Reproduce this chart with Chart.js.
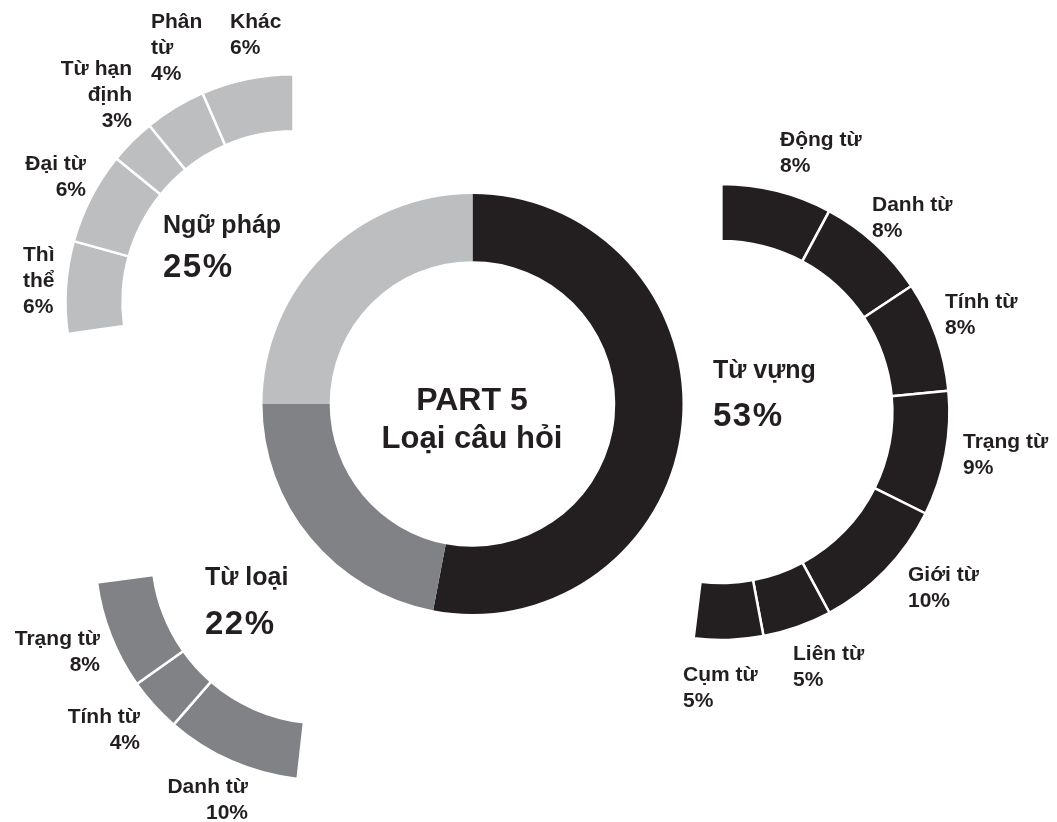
<!DOCTYPE html>
<html>
<head>
<meta charset="utf-8">
<script src="https://cdn.jsdelivr.net/npm/chart.js@4.4.1/dist/chart.umd.min.js"></script>
<style>
html,body{margin:0;padding:0;background:#fff;}
#stage{position:relative;width:1057px;height:822px;overflow:hidden;font-family:"Liberation Sans",Arial,Helvetica,sans-serif;color:#231f20;font-weight:bold;}
canvas.ring{position:absolute;left:0;top:0;}
.lbl{position:absolute;font-size:21px;line-height:26px;white-space:pre;}
.grp{position:absolute;font-size:25px;line-height:25px;white-space:pre;}
.pct{position:absolute;font-size:33px;line-height:33px;letter-spacing:1.5px;white-space:pre;}
.ctr{position:absolute;white-space:pre;transform:translateX(-50%);text-align:center;}
</style>
</head>
<body>
<div id="stage"></div>
<script>
// ---------- DATA ----------
const mainLabels = ['Từ vựng', 'Từ loại', 'Ngữ pháp'];
const mainValues = [53, 22, 25];

const vocabLabels = ['Động từ', 'Danh từ', 'Tính từ', 'Trạng từ', 'Giới từ', 'Liên từ', 'Cụm từ'];
const vocabValues = [8, 8, 8, 9, 10, 5, 5];

const wordLabels = ['Danh từ', 'Tính từ', 'Trạng từ'];
const wordValues = [10, 4, 8];

const grammarLabels = ['Thì\nthể', 'Đại từ', 'Từ hạn\nđịnh', 'Phân\ntừ', 'Khác'];
const grammarValues = [6, 6, 3, 4, 6];

const centerTitle = ['PART 5', 'Loại câu hỏi'];

// ---------- STYLE / LAYOUT ----------
const W = 1057, H = 822;
const COL = { dark: '#231f20', mid: '#808285', light: '#bcbec0' };

const rings = [
  { labels: mainLabels, values: mainValues, color: [COL.dark, COL.mid, COL.light],
    cx: 472, cy: 404, r: 210, cutout: '68%', rotation: 0, circ: 360, border: 0 },
  { labels: vocabLabels, values: vocabValues, color: COL.dark,
    cx: 721, cy: 412, r: 228, cutout: '75%', rotation: 0, circ: 187, border: 2.5 },
  { labels: wordLabels, values: wordValues, color: COL.mid,
    cx: 323, cy: 552, r: 228, cutout: '75%', rotation: 186.4, circ: 76, border: 2.5 },
  { labels: grammarLabels, values: grammarValues, color: COL.light,
    cx: 293, cy: 302, r: 228, cutout: '75%', rotation: 262, circ: 98, border: 2.5 }
];

// label positions: [x, top, align]
const vocabLabelPos = [[780,126.4,'l'],[872,191.4,'l'],[945,287.7,'l'],[963,427.7,'l'],[908,561.4,'l'],[793,639.7,'l'],[683,661.4,'l']];
const wordLabelPos = [[248,773,'r'],[140,703,'r'],[100,624.7,'r']];
const grammarLabelPos = [[23,241.4,'l'],[86,149.7,'r'],[132,54.7,'r'],[151,7.7,'l'],[230,7.7,'l']];
// group name/percent: [x, nameTop, pctTop]
const groupPos = [[713,356.5,398],[205,564,606],[163,212,248.8]];

const stage = document.getElementById('stage');

function addDiv(cls, text, x, top, align, extra) {
  const d = document.createElement('div');
  d.className = cls;
  d.textContent = text;
  d.style.left = x + 'px';
  d.style.top = top + 'px';
  if (align === 'r') { d.style.transform = 'translateX(-100%)'; d.style.textAlign = 'right'; }
  if (extra) Object.assign(d.style, extra);
  stage.appendChild(d);
  return d;
}

rings.forEach(function (g) {
  const cv = document.createElement('canvas');
  cv.className = 'ring';
  cv.width = W; cv.height = H;
  cv.style.width = W + 'px'; cv.style.height = H + 'px';
  stage.appendChild(cv);
  const chart = new Chart(cv, {
    type: 'doughnut',
    data: {
      labels: g.labels,
      datasets: [{
        data: g.values,
        backgroundColor: g.color,
        borderColor: '#ffffff',
        borderWidth: g.border,
        borderAlign: 'center'
      }]
    },
    options: {
      responsive: false,
      animation: false,
      events: [],
      radius: g.r,
      cutout: g.cutout,
      rotation: g.rotation,
      circumference: g.circ,
      layout: { padding: 0 },
      plugins: { legend: { display: false }, tooltip: { enabled: false } }
    }
  });
  const el = chart.getDatasetMeta(0).data[0];
  cv.style.left = (g.cx - el.x) + 'px';
  cv.style.top = (g.cy - el.y) + 'px';
});

// segment labels
function segLabels(labels, values, pos) {
  labels.forEach(function (lab, i) {
    const p = pos[i];
    addDiv('lbl', lab + '\n' + values[i] + '%', p[0], p[1], p[2]);
  });
}
segLabels(vocabLabels, vocabValues, vocabLabelPos);
segLabels(wordLabels, wordValues, wordLabelPos);
segLabels(grammarLabels, grammarValues, grammarLabelPos);

// group labels
mainLabels.forEach(function (lab, i) {
  const p = groupPos[i];
  addDiv('grp', lab, p[0], p[1]);
  addDiv('pct', mainValues[i] + '%', p[0], p[2]);
});

// centre title
addDiv('ctr', centerTitle[0], 472, 383, null, { fontSize: '32px', lineHeight: '32px' });
addDiv('ctr', centerTitle[1], 472, 422, null, { fontSize: '31px', lineHeight: '31px' });
</script>
</body>
</html>
